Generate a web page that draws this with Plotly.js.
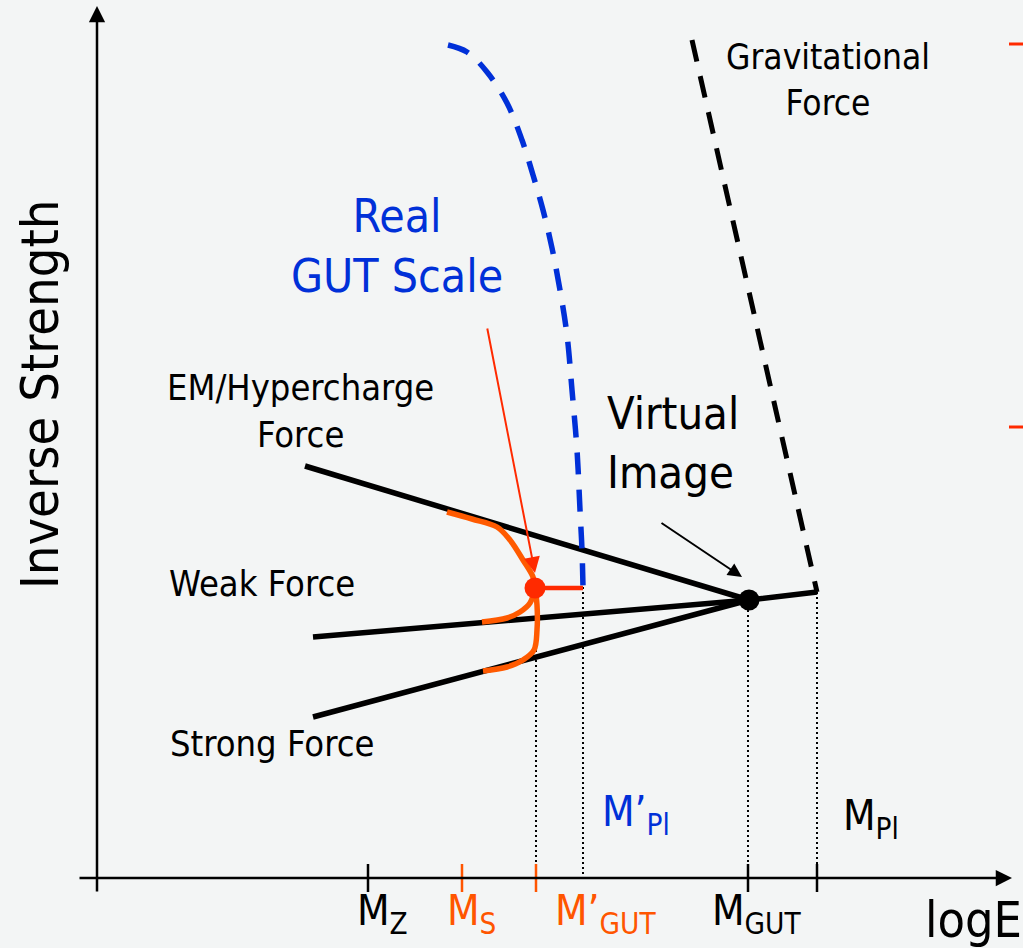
<!DOCTYPE html>
<html>
<head>
<meta charset="utf-8">
<script src="https://cdn.plot.ly/plotly-3.0.1.min.js"></script>
<style>
  html, body { margin: 0; padding: 0; background: #f3f5f5; }
  #chart { width: 1023px; height: 948px; }
</style>
</head>
<body>
<div id="chart"></div>
<script>
// Running of the inverse coupling strengths with log energy (schematic units).
// x: logE, y: inverse strength; origin at the axis crossing.

// Gauge couplings meeting at the (virtual) unification point
const unifyX = 652, unifyY = 278;
const emX = [208, unifyX];
const emY = [412, unifyY];
const weakX = [216, unifyX, 720];
const weakY = [241, unifyY, 286];
const strongX = [216, unifyX];
const strongY = [161, unifyY];

// Gravitational force (dashed)
const gravX = [595, 720];
const gravY = [838, 286];

// Real GUT scale curve (blue dashed)
const realGutX = [351, 370, 390, 410, 425, 436, 446, 455, 463, 470, 475, 480, 483, 485, 486];
const realGutY = [833, 826, 806, 775, 738, 703, 668, 630, 588, 543, 488, 428, 368, 328, 291];

// Modified running near the real GUT point (orange)
const realX = 438, realY = 290;
const upperX = [350, 375, 400, 413, 426, 436, realX];
const upperY = [366, 359, 351, 338, 318, 301, realY];
const middleX = [385, 410, 423, 433, realX];
const middleY = [256, 260, 266, 275, realY];
const lowerX = [realX, 440, 440, 437, 426, 410, 386];
const lowerY = [realY, 273, 248, 228, 218, 211, 207];
const stubX = [realX, 486];
const stubY = [realY, realY];

// Energy scales marked on the logE axis
const scaleNames = ["M<sub>Z</sub>", "M<sub>S</sub>", "M’<sub>GUT</sub>", "M<sub>GUT</sub>", "M<sub>Pl</sub>"];
const scaleX = [271, 365, 439, 651, 720];
const scaleColors = ["#000000", "#ff5500", "#ff5500", "#000000", "#000000"];

// Dotted drop lines from the curves to the axis
const dropX = [439, 486, 651, 720];
const dropTopY = [288, 291, 278, 286];

const ORANGE = "#ff5a00";
const RED = "#ff2a00";
const BLUE = "#0030d8";
const FONT = "DejaVu Sans Condensed, DejaVu Sans, sans-serif";

const traces = [];
function line(x, y, color, width, dash, shape) {
  traces.push({
    type: "scatter", mode: "lines", x: x, y: y, hoverinfo: "skip",
    line: { color: color, width: width, dash: dash || "solid", shape: shape || "linear", smoothing: 1 }
  });
}

// drop lines
dropX.forEach((x, i) => line([x, x], [dropTopY[i], 0], "#000000", 2, "2px,3px"));

// tick marks
const tickHalf = 14;
scaleX.forEach((x, i) => line([x, x], [tickHalf, -tickHalf], scaleColors[i], 2.5));

// forces
line(emX, emY, "#000000", 5.5);
line(weakX, weakY, "#000000", 5.5);
line(strongX, strongY, "#000000", 5.5);
line(gravX, gravY, "#000000", 5, "22px,15px");
line(realGutX, realGutY, BLUE, 5.5, "22px,15px", "spline");

// orange running
line(upperX, upperY, ORANGE, 5.5, "solid", "spline");
line(middleX, middleY, ORANGE, 5.5, "solid", "spline");
line(lowerX, lowerY, ORANGE, 5.5, "solid", "spline");
line(stubX, stubY, RED, 4.5);

// points
traces.push({
  type: "scatter", mode: "markers", hoverinfo: "skip",
  x: [realX, unifyX], y: [realY, unifyY],
  marker: { size: 21, color: [RED, "#000000"] }
});

// small red marks at right edge
line([912, 926, null, 912, 926], [834, 834, null, 451, 451], RED, 3);

const ann = [];
function text(t, x, y, size, color, xanchor, align, extra) {
  ann.push(Object.assign({
    text: t, x: x, y: y, xref: "x", yref: "y", showarrow: false,
    font: { family: FONT, size: size, color: color },
    xanchor: xanchor || "center", yanchor: "middle", align: align || "center"
  }, extra || {}));
}
function arrow(x0, y0, x1, y1, color, width, head, size) {
  ann.push({
    x: x1, y: y1, ax: x0, ay: y0, xref: "x", yref: "y", axref: "x", ayref: "y",
    text: "", showarrow: true, arrowhead: head, arrowsize: size, arrowwidth: width,
    arrowcolor: color, standoff: 0, startstandoff: 0
  });
}

// axes
arrow(0, -15, 0, 872, "#000000", 2.5, 2, 1.3);
arrow(-19, 0, 915, 0, "#000000", 2.5, 2, 1.3);

// pointer arrows
arrow(390, 551, 438, 305, RED, 2, 2, 1.6);
arrow(563, 356, 645, 301, "#000000", 2, 2, 1.4);

// axis titles
text("Inverse Strength", -57, 483, 52, "#000000", "center", "center", { textangle: -90 });
text("logE", 826, -42, 50, "#000000", "left", "left");

// scale labels
const labelLeft = [258, 348, 456, 613, 744];
const labelY = [-35, -35, -35, -35, 60];
scaleNames.forEach((n, i) => text(n, labelLeft[i], labelY[i], 42, scaleColors[i], "left", "left"));
text("M’<sub>Pl</sub>", 503, 64, 42, BLUE, "left", "left");

// force labels
text("Gravitational<br>Force", 731, 798, 35, "#000000");
text("Real<br>GUT Scale", 300, 632, 46, BLUE);
text("Virtual<br>Image", 508, 435, 45, "#000000", "left", "left");
text("EM/Hypercharge<br>Force", 203, 467, 36, "#000000");
text("Weak Force", 165, 295, 36, "#000000");
text("Strong Force", 175, 135, 36, "#000000");

const layout = {
  width: 1023, height: 948,
  margin: { l: 0, r: 0, t: 0, b: 0 },
  paper_bgcolor: "#f3f5f5", plot_bgcolor: "#f3f5f5",
  showlegend: false,
  xaxis: { range: [-97, 926], visible: false, fixedrange: true },
  yaxis: { range: [-70, 878], visible: false, fixedrange: true },
  annotations: ann
};

Plotly.newPlot("chart", traces, layout, { staticPlot: true, displayModeBar: false });
</script>
</body>
</html>
